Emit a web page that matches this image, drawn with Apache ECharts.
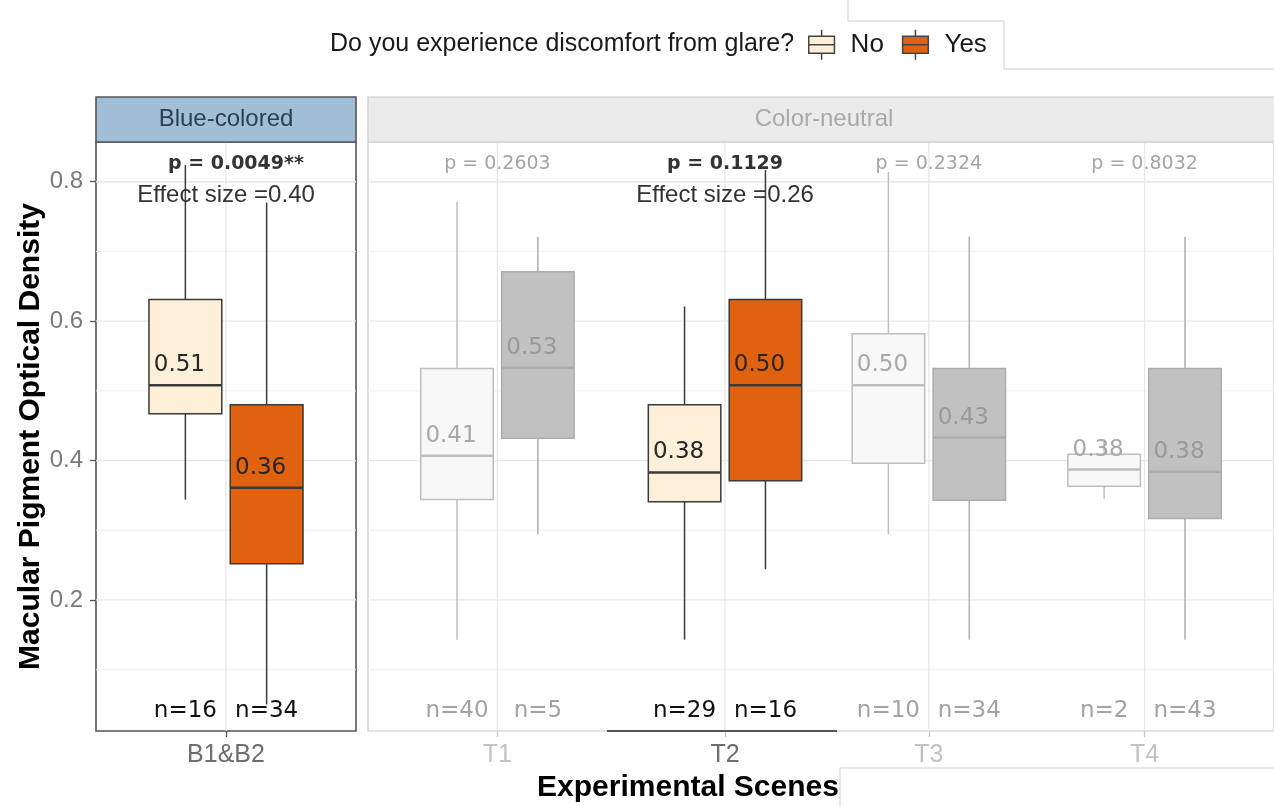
<!DOCTYPE html>
<html>
<head>
<meta charset="utf-8">
<script src="https://cdn.jsdelivr.net/npm/echarts@6/dist/echarts.min.js"></script>
<style>
  html, body { margin: 0; padding: 0; background: #fff; }
  #chart { width: 1274px; height: 806px; }
</style>
</head>
<body>
<div id="chart"></div>
<script>
// scenes: first one sits in the "Blue-colored" panel, the rest in "Color-neutral"
const scenes = ["B1&B2", "T1", "T2", "T3", "T4"]
const panelTitles = ["Blue-colored", "Color-neutral"]
const highlighted = [true, false, true, false, false]

// [lower whisker, Q1, median, Q3, upper whisker]
const noStats = [
  [0.344, 0.467, 0.508, 0.631, 0.824],
  [0.143, 0.344, 0.407, 0.532, 0.771],
  [0.143, 0.341, 0.383, 0.480, 0.621],
  [0.294, 0.396, 0.508, 0.582, 0.814],
  [0.345, 0.363, 0.387, 0.409, 0.430]
]
const yesStats = [
  [0.050, 0.252, 0.361, 0.480, 0.770],
  [0.294, 0.432, 0.533, 0.671, 0.721],
  [0.244, 0.371, 0.508, 0.631, 0.817],
  [0.143, 0.343, 0.433, 0.532, 0.721],
  [0.143, 0.317, 0.384, 0.532, 0.721]
]
const noMedianLabels = ["0.51", "0.41", "0.38", "0.50", "0.38"]
const yesMedianLabels = ["0.36", "0.53", "0.50", "0.43", "0.38"]
const noCounts = [16, 40, 29, 10, 2]
const yesCounts = [34, 5, 16, 34, 43]
const pValues = ["p = 0.0049**", "p = 0.2603", "p = 0.1129", "p = 0.2324", "p = 0.8032"]
const effectSizes = ["Effect size =0.40", "", "Effect size =0.26", "", ""]
const yTicks = [0.2, 0.4, 0.6, 0.8]
const yMinorTicks = [0.1, 0.3, 0.5, 0.7]
const yRange = [0.012, 0.857]

// layout
const plotTop = 142, plotHeight = 589, stripTop = 97
const panels = [
  { left: 96, width: 260, xMin: 0.4, xMax: 1.6 },
  { left: 368, width: 912, xMin: 0.4, xMax: 4.6 }
]
// the T2 block sits a little to the right in the original figure
const sceneShift = [0, 0, 0.055, 0, 0]
const dodge = 0.1875, halfBox = 0.168
const pY = 0.826, effY = 0.781, nY = 0.041

const palette = {
  No: { on: { fill: "#FDEFD8", stroke: "#3A3A3A", text: "#262626" },
        off: { fill: "#F8F8F8", stroke: "#BEBEBE", text: "#A8A8A8" } },
  Yes: { on: { fill: "#E0620E", stroke: "#3A3A3A", text: "#262626" },
         off: { fill: "#C2C1C2", stroke: "#ADADAD", text: "#9A9A9A" } }
}

const measurer = document.createElement("canvas").getContext("2d")
function textWidth(s, font) {
  measurer.font = font
  return measurer.measureText(s).width
}

function scenePos(i) { return (i === 0 ? 1 : i) + sceneShift[i] }
function panelOf(i) { return i === 0 ? 0 : 1 }
function sceneAt(panel, v) {
  let best = 0, d = Infinity
  scenes.forEach((s, i) => {
    if (panelOf(i) === panel && Math.abs(scenePos(i) - v) < d) { d = Math.abs(scenePos(i) - v); best = i }
  })
  return best
}
function panelTicks(panel) {
  return scenes.map((s, i) => i).filter(i => panelOf(i) === panel).map(scenePos)
}

function boxData(stats, offset, panel) {
  let out = []
  stats.forEach((s, i) => {
    if (panelOf(i) !== panel) return
    out.push([scenePos(i) + offset].concat(s, [highlighted[i] ? 1 : 0, i]))
  })
  return out
}

function makeBoxRender(group, labels) {
  return function (params, api) {
    let x = api.value(0)
    let lo = api.value(1), q1 = api.value(2), med = api.value(3), q3 = api.value(4), hi = api.value(5)
    let pal = palette[group][api.value(6) === 1 ? "on" : "off"]
    let idx = api.value(7)
    let tl = api.coord([x - halfBox, q3])
    let br = api.coord([x + halfBox, q1])
    let m = api.coord([x, med])
    let top = api.coord([x, hi])
    let bot = api.coord([x, lo])
    return {
      type: "group",
      children: [
        { type: "line", shape: { x1: m[0], y1: top[1], x2: m[0], y2: tl[1] }, style: { stroke: pal.stroke, lineWidth: 1.5 } },
        { type: "line", shape: { x1: m[0], y1: br[1], x2: m[0], y2: bot[1] }, style: { stroke: pal.stroke, lineWidth: 1.5 } },
        { type: "rect", shape: { x: tl[0], y: tl[1], width: br[0] - tl[0], height: br[1] - tl[1] },
          style: { fill: pal.fill, stroke: pal.stroke, lineWidth: 1.5 } },
        { type: "line", shape: { x1: tl[0], y1: m[1], x2: br[0], y2: m[1] }, style: { stroke: pal.stroke, lineWidth: 2.5 } },
        { type: "text", x: m[0] - 6, y: m[1] - 20,
          style: { text: labels[idx], fill: pal.text, font: "23px 'DejaVu Sans'", align: "center", verticalAlign: "middle" } }
      ]
    }
  }
}

function gridData(panel) {
  let out = []
  yTicks.concat(yMinorTicks).forEach(v => out.push([1, v, 0, yTicks.includes(v) ? 1 : 0]))
  panelTicks(panel).forEach(x => out.push([x, 0.5, 1, 1]))
  return out
}

function renderGrid(params, api) {
  let cs = params.coordSys
  let kind = api.value(2)
  let major = api.value(3) === 1
  let shape
  if (kind === 0) {
    let y = api.coord([1, api.value(1)])[1]
    shape = { x1: cs.x, y1: y, x2: cs.x + cs.width, y2: y }
  } else {
    let x = api.coord([api.value(0), 0.5])[0]
    shape = { x1: x, y1: cs.y, x2: x, y2: cs.y + cs.height }
  }
  return { type: "line", shape: shape, style: { stroke: major ? "#E8E8E8" : "#F1F1F1", lineWidth: major ? 1.3 : 1 } }
}

// annotations: [x, y, kind, scene]; kind 0 = p value, 1 = effect size, 2 = n(No), 3 = n(Yes)
function annotationData(panel) {
  let out = []
  scenes.forEach((s, i) => {
    if (panelOf(i) !== panel) return
    let c = scenePos(i)
    out.push([c, pY, 0, i])
    if (effectSizes[i]) out.push([c, effY, 1, i])
    out.push([c - dodge, nY, 2, i])
    out.push([c + dodge, nY, 3, i])
  })
  return out
}

function renderAnnotation(params, api) {
  let kind = api.value(2), i = api.value(3)
  let p = api.coord([api.value(0), api.value(1)])
  let on = highlighted[i]
  if (kind === 0) {
    let font = (on ? "bold " : "") + "19px 'DejaVu Sans'"
    let parts = pValues[i].match(/^(.*?)(\**)$/)
    let left = p[0] - textWidth(parts[1], font) / 2
    return { type: "text", x: left, y: p[1],
      style: { text: pValues[i], font: font, fill: on ? "#333333" : "#A5A5A5", align: "left", verticalAlign: "middle" } }
  }
  if (kind === 1) {
    return { type: "text", x: p[0], y: p[1],
      style: { text: effectSizes[i], font: "24px 'Liberation Sans'", fill: "#333333", align: "center", verticalAlign: "middle" } }
  }
  let n = kind === 2 ? noCounts[i] : yesCounts[i]
  return { type: "text", x: p[0], y: p[1],
    style: { text: "n=" + n, font: "23px 'DejaVu Sans'", fill: on ? "#111111" : "#A3A3A3", align: "center", verticalAlign: "middle" } }
}

let series = []
panels.forEach((pn, k) => {
  series.push({ type: "custom", name: "grid" + k, xAxisIndex: k, yAxisIndex: k, silent: true, z: 1,
    renderItem: renderGrid, data: gridData(k) })
  series.push({ type: "custom", name: "No", xAxisIndex: k, yAxisIndex: k, z: 3,
    itemStyle: { color: palette.No.on.fill }, renderItem: makeBoxRender("No", noMedianLabels),
    data: boxData(noStats, -dodge, k) })
  series.push({ type: "custom", name: "Yes", xAxisIndex: k, yAxisIndex: k, z: 3,
    itemStyle: { color: palette.Yes.on.fill }, renderItem: makeBoxRender("Yes", yesMedianLabels),
    data: boxData(yesStats, dodge, k) })
  series.push({ type: "custom", name: "notes" + k, xAxisIndex: k, yAxisIndex: k, silent: true, z: 5,
    renderItem: renderAnnotation, data: annotationData(k) })
})

const boxIcon = "path://M6,0L6,3M0,3L12,3L12,11L0,11ZM0,7L12,7M6,11L6,14"

let myChart = echarts.init(document.getElementById("chart"))
myChart.setOption({
  backgroundColor: "#ffffff",
  animation: false,
  title: {
    text: "Do you experience discomfort from glare?",
    left: 330, top: 32, padding: 0,
    textStyle: { fontFamily: "Liberation Sans", fontSize: 25, fontWeight: "normal", color: "#1A1A1A" }
  },
  legend: {
    left: 808, top: 29, padding: 0,
    itemWidth: 26, itemHeight: 30, itemGap: 18,
    selectedMode: false,
    textStyle: { fontFamily: "Liberation Sans", fontSize: 26, color: "#1A1A1A", padding: [2, 0, 0, 11] },
    data: [
      { name: "No", icon: boxIcon, itemStyle: { color: palette.No.on.fill, borderColor: "#444", borderWidth: 1.5 } },
      { name: "Yes", icon: boxIcon, itemStyle: { color: palette.Yes.on.fill, borderColor: "#444", borderWidth: 1.5 } }
    ]
  },
  grid: panels.map((pn, k) => ({
    left: pn.left, top: plotTop, width: pn.width, height: plotHeight,
    show: true, backgroundColor: "#ffffff",
    borderColor: k === 0 ? "#555555" : "#C9C9C9", borderWidth: k === 0 ? 1.6 : 1.2
  })),
  xAxis: panels.map((pn, k) => ({
    type: "value", gridIndex: k, min: pn.xMin, max: pn.xMax,
    axisLine: { show: false },
    splitLine: { show: false },
    axisTick: { show: true, length: 6, customValues: panelTicks(k),
      lineStyle: { color: k === 0 ? "#555555" : "#C9C9C9", width: 1.3 } },
    axisLabel: {
      customValues: panelTicks(k),
      margin: 12,
      fontFamily: "Liberation Sans", fontSize: 25,
      formatter: v => scenes[sceneAt(k, v)],
      color: v => highlighted[sceneAt(k, v)] ? "#6E6E6E" : "#C2C2C2"
    }
  })),
  yAxis: panels.map((pn, k) => ({
    type: "value", gridIndex: k, min: yRange[0], max: yRange[1],
    name: k === 0 ? "Macular Pigment Optical Density" : "",
    nameLocation: "middle", nameGap: 50, nameRotate: 90,
    nameTextStyle: { fontFamily: "Liberation Sans", fontSize: 30, fontWeight: "bold", color: "#000" },
    axisLine: { show: false },
    splitLine: { show: false },
    axisTick: { show: k === 0, length: 6, customValues: yTicks, lineStyle: { color: "#555555", width: 1.3 } },
    axisLabel: { show: k === 0, customValues: yTicks, margin: 13,
      fontFamily: "Liberation Sans", fontSize: 24, color: "#7A7A7A",
      formatter: v => v.toFixed(1) }
  })),
  graphic: [
    { type: "rect", shape: { x: panels[0].left, y: stripTop, width: panels[0].width, height: plotTop - stripTop },
      style: { fill: "#A0BFD7", stroke: "#555555", lineWidth: 1.6 }, z: 10 },
    { type: "text", x: panels[0].left + panels[0].width / 2, y: (stripTop + plotTop) / 2,
      style: { text: panelTitles[0], font: "24px 'Liberation Sans'", fill: "#2E3D4F", align: "center", verticalAlign: "middle" }, z: 11 },
    { type: "rect", shape: { x: panels[1].left, y: stripTop, width: panels[1].width, height: plotTop - stripTop },
      style: { fill: "#EBEBEB", stroke: "#CBCBCB", lineWidth: 1.2 }, z: 10 },
    { type: "text", x: panels[1].left + panels[1].width / 2, y: (stripTop + plotTop) / 2,
      style: { text: panelTitles[1], font: "24px 'Liberation Sans'", fill: "#A9A9A9", align: "center", verticalAlign: "middle" }, z: 11 },
    { type: "text", x: (panels[0].left + panels[1].left + panels[1].width) / 2, y: 788,
      style: { text: "Experimental Scenes", font: "bold 30px 'Liberation Sans'", fill: "#000", align: "center", verticalAlign: "middle" }, z: 11 },
    // edges of the pasted pieces in the original figure
    { type: "polyline", shape: { points: [[848, 0], [848, 21], [1004, 21], [1004, 69], [1274, 69]] },
      style: { fill: null, stroke: "#CFCFCF", lineWidth: 1 }, z: 12 },
    { type: "polyline", shape: { points: [[840, 806], [840, 768], [1274, 768]] },
      style: { fill: null, stroke: "#CFCFCF", lineWidth: 1 }, z: 12 },
    { type: "line", shape: { x1: 607, y1: plotTop + plotHeight, x2: 837, y2: plotTop + plotHeight },
      style: { stroke: "#555555", lineWidth: 2 }, z: 12 }
  ],
  series: series
})
</script>
</body>
</html>
